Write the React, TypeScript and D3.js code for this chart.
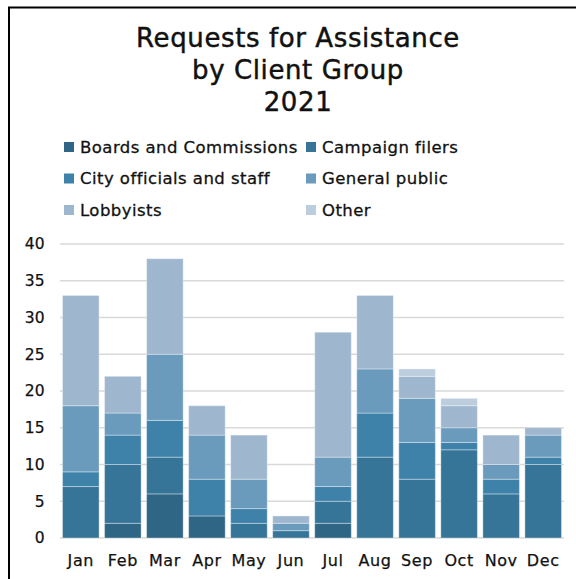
import React from "react";
import * as d3 from "d3";

const months = ["Jan", "Feb", "Mar", "Apr", "May", "Jun", "Jul", "Aug", "Sep", "Oct", "Nov", "Dec"];
const seriesNames = ["Boards and Commissions", "Campaign filers", "City officials and staff", "General public", "Lobbyists", "Other"];
const boards = [0, 2, 6, 3, 0, 0, 2, 0, 0, 0, 0, 0];
const campaign = [7, 8, 5, 0, 2, 1, 3, 11, 8, 12, 6, 10];
const city = [2, 4, 5, 5, 2, 0, 2, 6, 5, 1, 2, 1];
const general = [9, 3, 9, 6, 4, 1, 4, 6, 6, 2, 2, 3];
const lobbyists = [15, 5, 13, 4, 6, 1, 17, 10, 3, 3, 4, 1];
const other = [0, 0, 0, 0, 0, 0, 0, 0, 1, 1, 0, 0];
const yTicks = [0, 5, 10, 15, 20, 25, 30, 35, 40];
const titleLines = ["Requests for Assistance", "by Client Group", "2021"];

const colors = ["#2f6585", "#377598", "#3e82aa", "#6a9bbd", "#9fb7ce", "#bccddd"];

export default function App() {
  const W = 576, H = 579;
  const seriesVals = [boards, campaign, city, general, lobbyists, other];
  const table = months.map((m, i) => {
    const row: any = { month: m };
    seriesNames.forEach((s, k) => (row[s] = seriesVals[k][i]));
    return row;
  });
  const stack = d3.stack<any>().keys(seriesNames)(table);
  const x = d3.scaleBand().domain(months).range([60, 564]).paddingInner(0.13).paddingOuter(0.06);
  const y = d3.scaleLinear().domain([0, 40]).range([538, 244]);
  const font = "'DejaVu Sans', sans-serif";

  return (
    <svg width={W} height={H} style={{ position: "absolute", left: 0, top: 0 }} fontFamily={font}>
      <rect x={0} y={0} width={W} height={H} fill="#fff" />
      <rect x={9} y={7.5} width={700} height={700} fill="none" stroke="#000" strokeWidth={2} />
      {titleLines.map((t, i) => (
        <text key={t} x={298} y={47 + i * 32} textAnchor="middle" fontSize={26} letterSpacing={0.6}
          fill="#111" stroke="#111" strokeWidth={0.45}>
          {t}
        </text>
      ))}
      {seriesNames.map((s, i) => {
        const col = i % 2, row = Math.floor(i / 2);
        const lx = col === 0 ? 64 : 306;
        const ly = 147 + row * 31.5;
        return (
          <g key={s}>
            <rect x={lx} y={ly - 5} width={10} height={10} fill={colors[i]} />
            <text x={lx + 16} y={ly} dy="0.35em" fontSize={16.5} letterSpacing={0.45} fill="#111" stroke="#111" strokeWidth={0.3}>
              {s}
            </text>
          </g>
        );
      })}
      {yTicks.map((t) => (
        <g key={t}>
          <line x1={60} x2={564} y1={y(t)} y2={y(t)} stroke="#d9d9d9" strokeWidth={1.5} />
          <text x={45} y={y(t)} dy="0.35em" textAnchor="end" fontSize={15.5} letterSpacing={0.3} fill="#111" stroke="#111" strokeWidth={0.25}>
            {t}
          </text>
        </g>
      ))}
      {stack.map((layer, k) => (
        <g key={layer.key} fill={colors[k]}>
          {layer.map((d, i) =>
            d[1] - d[0] > 0 ? (
              <rect
                key={i}
                x={x(months[i])!}
                width={x.bandwidth()}
                y={y(d[1])}
                height={y(d[0]) - y(d[1])}
                stroke="rgba(255,255,255,0.35)"
                strokeWidth={1}
              />
            ) : null
          )}
        </g>
      ))}
      {months.map((m) => (
        <text key={m} x={x(m)! + x.bandwidth() / 2} y={560} dy="0.35em" textAnchor="middle" fontSize={16} letterSpacing={0.6}
          fill="#111" stroke="#111" strokeWidth={0.25}>
          {m}
        </text>
      ))}
    </svg>
  );
}
